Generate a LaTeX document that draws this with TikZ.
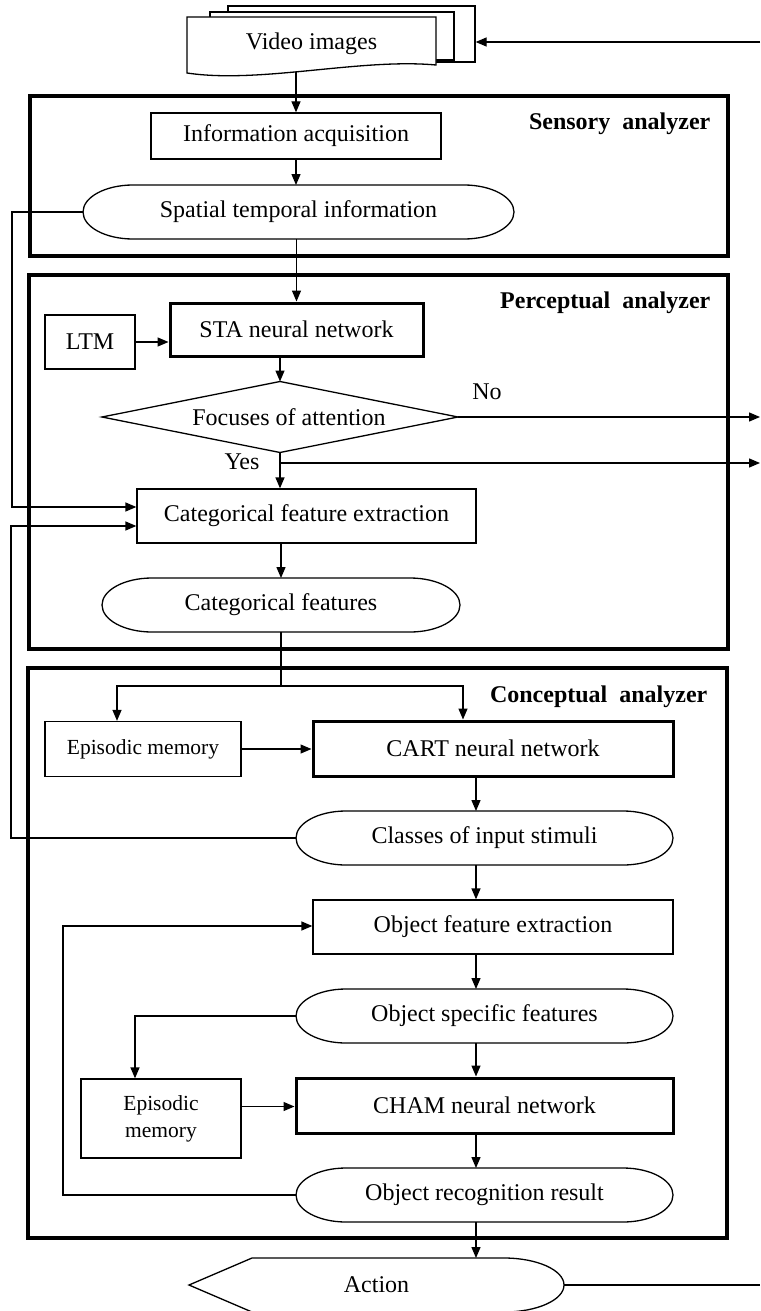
\documentclass[tikz,border=0pt]{standalone}
\usepackage{fontspec}
\setmainfont{Liberation Serif}
\usetikzlibrary{arrows.meta,calc}
\newcommand{\capsuleoutline}[2][50]{\draw ([xshift=#1pt]#2.north west) -- ([xshift=-#1pt]#2.north east) arc[start angle=90,end angle=-90,x radius=#1pt,y radius=27pt] -- ([xshift=#1pt]#2.south west) arc[start angle=270,end angle=90,x radius=#1pt,y radius=27pt] -- cycle;}
\begin{document}
\begin{tikzpicture}[x=1pt,y=-1pt,line width=1.3pt,
  txt/.style={font=\fontsize{24pt}{28pt}\selectfont,inner sep=0pt,outer sep=0pt,align=center},
  box/.style={txt,draw,line width=1.3pt,outer sep=0.65pt},
  boldbox/.style={txt,draw,line width=3pt,outer sep=1.5pt},
  small/.style={font=\fontsize{21.5pt}{27pt}\selectfont},
  frame/.style={draw,line width=4pt,inner sep=0pt},
  title/.style={font=\bfseries\fontsize{24pt}{28pt}\selectfont,inner sep=0pt,anchor=east},
  arr/.style={-{Triangle[length=11pt,width=9pt]}}]
\useasboundingbox (0,0) rectangle (760,1311);

% frames
\node[frame,minimum width=698pt,minimum height=160pt] (sensory) at (379,176) {};
\node[frame,minimum width=699pt,minimum height=374pt] (percept) at (378.5,462) {};
\node[frame,minimum width=699pt,minimum height=570pt] (concept) at (377.5,953) {};
\node[title] (tsens) at (711,124) {Sensory\ \ analyzer};
\node[title] (tperc) at (711,303) {Perceptual\ \ analyzer};
\node[title] (tconc) at (708,697) {Conceptual\ \ analyzer};

% video images stack
\node[draw,fill=white,minimum width=247pt,minimum height=56pt] (sheet3) at (351.5,34) {};
\node[draw,fill=white,minimum width=244pt,minimum height=48pt] (sheet2) at (332,36) {};
\draw[fill=white] (187,17) -- (436,17) -- (436,65) .. controls (360,58) and (260,84) .. (187,73) -- cycle;
\node[txt,minimum width=249pt,minimum height=56pt] (video) at (311.5,44) {Video images};

% sensory analyzer
\node[box,minimum width=290pt,minimum height=46pt] (info) at (296,136) {Information acquisition};
\node[txt,minimum width=431pt,minimum height=54pt] (spatial) at (298.5,212) {Spatial temporal information};
\capsuleoutline{spatial}

% perceptual analyzer
\node[boldbox,minimum width=253pt,minimum height=53pt] (sta) at (296.5,329.5) {STA neural network};
\node[box,minimum width=90pt,minimum height=54pt] (ltm) at (90,342) {LTM};
\node[txt,minimum width=356pt,minimum height=71pt] (focus) at (280,417) {\hspace*{18pt}Focuses of attention};
\draw (focus.west) -- (focus.north) -- (focus.east) -- (focus.south) -- cycle;
\node[txt] (no) at (487,392) {No};
\node[txt] (yes) at (242,462) {Yes};
\node[box,minimum width=339pt,minimum height=54pt] (catx) at (306.5,516) {Categorical feature extraction};
\node[txt,minimum width=358pt,minimum height=54pt] (catf) at (281,605) {Categorical features};
\capsuleoutline{catf}

% conceptual analyzer
\node[box,small,minimum width=196pt,minimum height=55pt] (epi1) at (143,749) {Episodic memory};
\node[boldbox,minimum width=360pt,minimum height=55pt] (cart) at (493,748.5) {CART neural network};
\node[txt,minimum width=377pt,minimum height=54pt] (classes) at (484.5,838) {Classes of input stimuli};
\capsuleoutline{classes}
\node[box,minimum width=360pt,minimum height=54pt] (objx) at (493,927) {Object feature extraction};
\node[txt,minimum width=377pt,minimum height=54pt] (objs) at (484.5,1016) {Object specific features};
\capsuleoutline{objs}
\node[box,small,minimum width=160pt,minimum height=79pt] (epi2) at (161,1118.5) {Episodic\\memory};
\node[boldbox,minimum width=377pt,minimum height=55pt] (cham) at (484.5,1105.5) {CHAM neural network};
\node[txt,minimum width=377pt,minimum height=54pt] (objr) at (484.5,1195) {Object recognition result};
\capsuleoutline{objr}

% action
\node[txt,minimum width=375pt,minimum height=54pt] (action) at (376.5,1285) {Action};
\draw (action.west) -- ([xshift=63pt]action.north west) -- ([xshift=-60pt]action.north east) arc[start angle=90,end angle=-90,x radius=60pt,y radius=27pt] -- ([xshift=63pt]action.south west) -- cycle;

% coordinates
\coordinate (inR) at (760,42);
\coordinate (noR) at (760,417);
\coordinate (yesR) at (760,463);
\coordinate (actR) at (760,1285);
\coordinate (L1) at (12,507);
\coordinate (L2) at (11,526);
\coordinate (L3) at (63,926);
\coordinate (L4) at (135,1016);
\coordinate (split) at (281,686);
\coordinate (e1in) at (117,686);
\coordinate (c1in) at (463,686);
\coordinate (spine) at (476,0);
\coordinate (e2o) at ([yshift=12pt]epi2.east);

% connectors
\draw[arr] (inR) -- (inR -| sheet3.east);
\draw[arr] (video.south -| info.north) -- (info.north);
\draw[arr] (info.south) -- (info.south |- spatial.north);
\draw[arr] (sta.north |- spatial.south) -- (sta.north);
\draw[arr] (ltm.east) -- (ltm.east -| sta.west);
\draw[arr] (focus.north |- sta.south) -- (focus.north);
\draw[arr] (focus.south) -- (focus.south |- catx.north);
\draw[arr] (focus.east) -- (noR);
\draw[arr] (focus.south |- yesR) -- (yesR);
\draw[arr] (spatial.west) -| (L1) -- (L1 -| catx.west);
\draw[arr] (classes.west) -| (L2) -- (L2 -| catx.west);
\draw[arr] (catf.north |- catx.south) -- (catf.north);
\draw (catf.south) -- (split);
\draw[arr] (split) -- (e1in) -- (e1in |- epi1.north);
\draw[arr] (split) -- (c1in) -- (c1in |- cart.north);
\draw[arr] (epi1.east) -- (epi1.east -| cart.west);
\draw[arr] (cart.south -| spine) -- (classes.north -| spine);
\draw[arr] (classes.south -| spine) -- (objx.north -| spine);
\draw[arr] (objx.south -| spine) -- (objs.north -| spine);
\draw[arr] (objs.south -| spine) -- (cham.north -| spine);
\draw[arr] (cham.south -| spine) -- (objr.north -| spine);
\draw[arr] (objr.south -| spine) -- (action.north -| spine);
\draw[arr] (objr.west) -| (L3) -- (L3 -| objx.west);
\draw[arr] (objs.west) -- (L4) -- (L4 |- epi2.north);
\draw[arr] (e2o) -- (e2o -| cham.west);
\draw (action.east) -- (actR);
\end{tikzpicture}
\end{document}
